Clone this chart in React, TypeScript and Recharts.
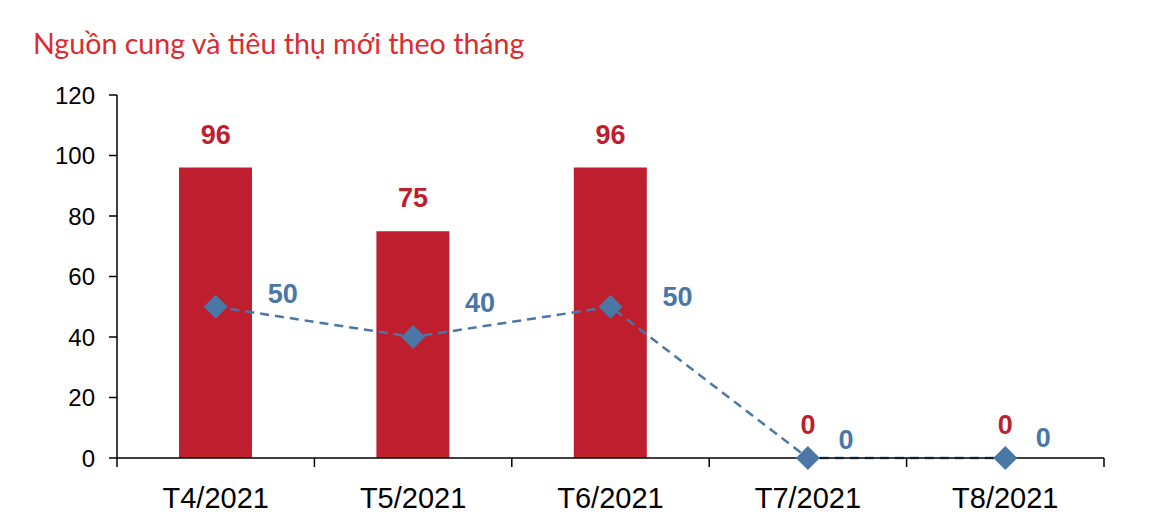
import * as React from "react"
import {
  Bar,
  ComposedChart,
  LabelList,
  Line,
  XAxis,
  YAxis,
} from "recharts"

const categories = ["T4/2021", "T5/2021", "T6/2021", "T7/2021", "T8/2021"]
const newSupply = [96, 75, 96, 0, 0]
const newSales = [50, 40, 50, 0, 0]
const yTicks = [0, 20, 40, 60, 80, 100, 120]

// hand-placed nudges for the blue labels, as in the source
const salesLabelDy = [-13, -34, -10, -18, -20]

const RED = "#BE1E2D"
const BLUE = "#4A77A6"
const AXIS_FONT = "'Liberation Sans', Arial, sans-serif"

const data = categories.map((month, i) => ({
  month,
  pos: i + 0.5,
  supply: newSupply[i],
  sales: newSales[i],
}))

// tick marks sit on the borders between months, labels in the middle
const edgeTicks: number[] = []
for (let i = 0; i <= categories.length * 2; i++) edgeTicks.push(i / 2)

const EdgeTick = (props: any) => {
  const { x, y, payload } = props
  const v = payload.value as number
  if (Number.isInteger(v)) {
    return <line x1={x} x2={x} y1={y - 2} y2={y + 7} stroke="#000" strokeWidth={1.5} />
  }
  return (
    <text
      x={x}
      y={y + 48}
      textAnchor="middle"
      fontFamily={AXIS_FONT}
      fontSize={29}
      fill="#000"
    >
      {categories[Math.floor(v)]}
    </text>
  )
}

const Diamond = (props: any) => {
  const { cx, cy } = props
  if (cx == null || cy == null) return null
  const r = 12
  return (
    <polygon
      points={`${cx},${cy - r} ${cx + r},${cy} ${cx},${cy + r} ${cx - r},${cy}`}
      fill={BLUE}
    />
  )
}

const SupplyLabel = (props: any) => {
  const { x, y, value } = props
  return (
    <text
      x={x}
      y={y - 24}
      textAnchor="middle"
      fontFamily={AXIS_FONT}
      fontWeight="bold"
      fontSize={27}
      fill={RED}
    >
      {value}
    </text>
  )
}

const SalesLabel = (props: any) => {
  const { x, y, value, index } = props
  const dx = value >= 10 ? 67 : 38
  return (
    <text
      x={x + dx}
      y={y + (salesLabelDy[index] ?? -13)}
      dy="0.35em"
      textAnchor="middle"
      fontFamily={AXIS_FONT}
      fontWeight="bold"
      fontSize={27}
      fill={BLUE}
    >
      {value}
    </text>
  )
}

export default function App() {
  return (
    <div style={{ position: "absolute", left: 0, top: 0, width: 1167, height: 525, background: "#fff" }}>
      <div
        style={{
          position: "absolute",
          left: 33,
          top: 29,
          fontFamily: "Lato, sans-serif",
          fontSize: 28.6,
          lineHeight: "28px",
          color: "#DD2A2E",
          whiteSpace: "nowrap",
        }}
      >
        Nguồn cung và tiêu thụ mới theo tháng
      </div>
      <ComposedChart
        width={1167}
        height={525}
        data={data}
        margin={{ top: 95, right: 63, bottom: 17, left: 57 }}
        barCategoryGap={0}
      >
        <XAxis xAxisId="cat" dataKey="month" hide height={0} />
        <XAxis
          xAxisId="edge"
          type="number"
          dataKey="pos"
          domain={[0, categories.length]}
          ticks={edgeTicks}
          interval={0}
          height={50}
          tickLine={false}
          tickSize={0}
          tick={<EdgeTick />}
          axisLine={{ stroke: "#000", strokeWidth: 1.5 }}
        />
        <YAxis
          width={60}
          domain={[0, 120]}
          ticks={yTicks}
          interval={0}
          tickSize={8}
          tickMargin={14}
          axisLine={{ stroke: "#000", strokeWidth: 1.5 }}
          tickLine={{ stroke: "#000", strokeWidth: 1.5 }}
          tick={{ fontFamily: AXIS_FONT, fontSize: 24, fill: "#000" }}
        />
        <Bar
          xAxisId="cat"
          dataKey="supply"
          fill={RED}
          barSize={73}
          isAnimationActive={false}
        />
        {/* invisible carrier for the bar value labels, so zero bars get one too */}
        <Line
          xAxisId="cat"
          dataKey="supply"
          stroke="none"
          dot={false}
          activeDot={false}
          legendType="none"
          isAnimationActive={false}
        >
          <LabelList dataKey="supply" content={<SupplyLabel />} />
        </Line>
        <Line
          xAxisId="cat"
          dataKey="sales"
          stroke={BLUE}
          strokeWidth={2.5}
          strokeDasharray="9 6"
          dot={<Diamond />}
          activeDot={false}
          isAnimationActive={false}
        >
          <LabelList dataKey="sales" content={<SalesLabel />} />
        </Line>
      </ComposedChart>
    </div>
  )
}
